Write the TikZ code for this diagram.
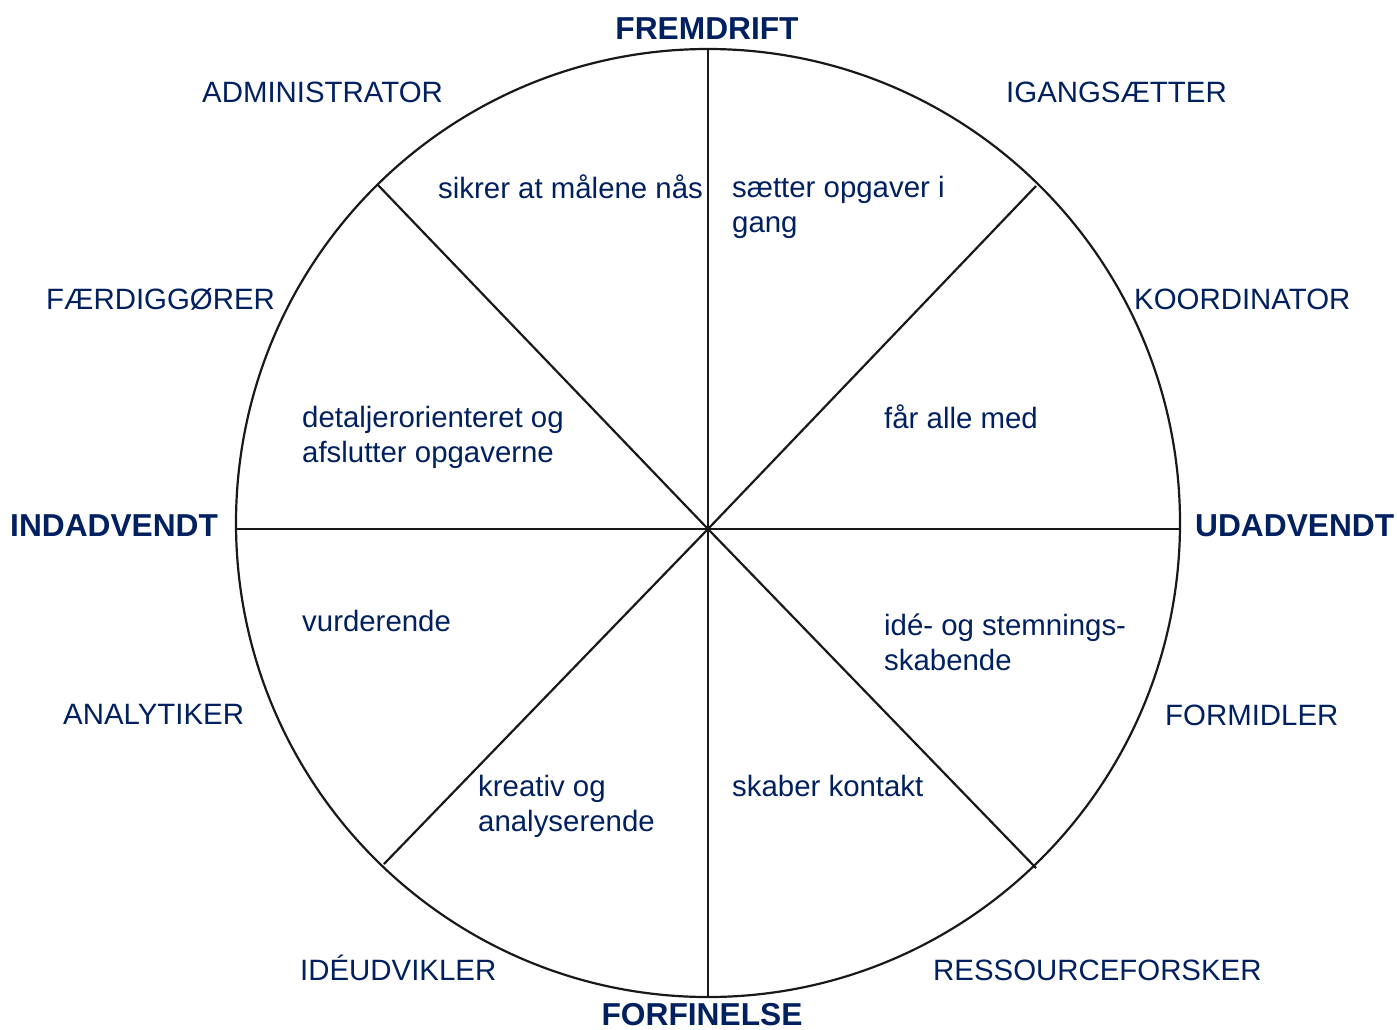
\documentclass[tikz,border=0pt]{standalone}
\usepackage{fontspec}
\setmainfont{Liberation Sans}
\definecolor{navy}{RGB}{0,32,96}
\begin{document}
\begin{tikzpicture}[x=1pt,y=-1pt,
  lbl/.style={anchor=base west,inner sep=0pt,text=navy,font=\fontsize{29.4}{35}\selectfont,align=left},
  axis/.style={anchor=base,inner sep=0pt,text=navy,font=\fontsize{31.7}{36}\selectfont\bfseries},
  axisw/.style={axis,anchor=base west},
  ln/.style={draw=black!90,line width=2.2pt}]
\useasboundingbox (0,0) rectangle (1397,1029);
\fill[white] (0,0) rectangle (1397,1029);
\coordinate (c) at (708,529);
\coordinate (top) at (708,49);
\coordinate (bot) at (708,997);
\coordinate (lft) at (236,529);
\coordinate (rgt) at (1180,529);
\coordinate (ul) at (377,184);
\coordinate (ur) at (1036,186);
\coordinate (ll) at (384,864);
\coordinate (lr) at (1036,868);
\draw[ln] (708,523) ellipse [x radius=472, y radius=474];
\draw[ln] (top) -- (bot);
\draw[ln] (lft) -- (rgt);
\draw[ln] (ul) -- (c) -- (lr);
\draw[ln] (ur) -- (c) -- (ll);
% axis labels
\node[axis] (fremdrift) at (707,39) {FREMDRIFT};
\node[axis] (forfinelse) at (702,1025) {FORFINELSE};
\node[axisw] (indadvendt) at (10,536) {INDADVENDT};
\node[axisw] (udadvendt) at (1195,536) {UDADVENDT};
% role labels
\node[lbl] (admin) at (202,102) {ADMINISTRATOR};
\node[lbl] (igang) at (1006,102) {IGANGSÆTTER};
\node[lbl] (faerdig) at (46,309) {FÆRDIGGØRER};
\node[lbl] (koord) at (1134,309) {KOORDINATOR};
\node[lbl] (analyt) at (63,724) {ANALYTIKER};
\node[lbl] (formid) at (1165,725) {FORMIDLER};
\node[lbl] (ideud) at (300,980) {IDÉUDVIKLER};
\node[lbl] (ressource) at (933,980) {RESSOURCEFORSKER};
% sector texts
\node[lbl] (t1) at (438,198) {sikrer at målene nås};
\node[lbl] (t2) at (732,232) {sætter opgaver i\\gang};
\node[lbl] (t3) at (302,462) {detaljerorienteret og\\afslutter opgaverne};
\node[lbl] (t4) at (884,428) {får alle med};
\node[lbl] (t5) at (302,631) {vurderende};
\node[lbl] (t6) at (884,670) {idé- og stemnings-\\skabende};
\node[lbl] (t7) at (478,831) {kreativ og\\analyserende};
\node[lbl] (t8) at (732,796) {skaber kontakt};
\end{tikzpicture}
\end{document}
